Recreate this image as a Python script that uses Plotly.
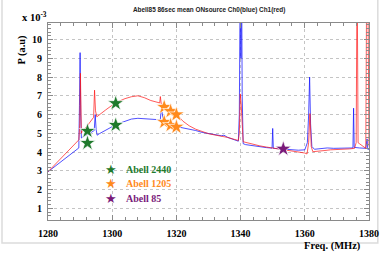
import plotly.graph_objects as go

# ---- data (values in units of 1e-3) ----
blue_freq = [1280.0, 1282.0, 1284.0, 1286.0, 1288.0, 1289.6, 1289.8, 1290.0, 1290.2, 1290.4,
             1291.0, 1292.0, 1293.0, 1294.4, 1294.7, 1295.0, 1295.3, 1296.0, 1298.0, 1300.0,
             1301.0, 1302.0, 1304.0, 1306.0, 1308.0, 1310.0, 1312.0, 1314.5, 1315.0, 1315.2,
             1315.5, 1316.0, 1318.0, 1320.0, 1322.0, 1324.0, 1326.0, 1328.0, 1330.0, 1332.0,
             1334.0, 1334.8, 1335.3, 1336.0, 1338.0, 1339.3, 1339.6, 1339.9, 1340.1, 1340.3,
             1340.5, 1340.8, 1341.5, 1344.0, 1346.0, 1348.0, 1349.8, 1350.0, 1350.2, 1352.0,
             1354.0, 1356.0, 1358.0, 1360.0, 1360.8, 1361.2, 1361.5, 1361.8, 1362.2, 1363.0,
             1365.0, 1367.0, 1369.0, 1372.0, 1374.0, 1375.0, 1375.2, 1375.4, 1377.0, 1379.0,
             1379.4, 1379.6, 1380.0]
blue_vals = [2.95, 3.22, 3.50, 3.75, 4.00, 4.22, 6.5, 9.3, 6.0, 4.75,
             4.82, 4.90, 5.00, 5.15, 6.0, 5.2, 4.90, 4.98, 5.18, 5.38,
             5.45, 5.52, 5.66, 5.76, 5.80, 5.78, 5.74, 5.71, 5.72, 6.2,
             6.15, 5.60, 5.45, 5.36, 5.30, 5.24, 5.15, 5.05, 4.98, 4.92,
             4.87, 4.90, 4.84, 4.78, 4.66, 4.58, 6.0, 14.0, 9.0, 14.0,
             7.0, 4.45, 4.40, 4.33, 4.28, 4.24, 4.21, 5.26, 4.20, 4.17,
             4.15, 4.12, 4.10, 4.12, 4.50, 6.0, 8.0, 5.5, 4.30, 4.15,
             4.18, 4.22, 4.20, 4.20, 4.20, 4.22, 6.34, 4.25, 4.22, 4.20,
             4.70, 4.15, 4.15]

red_freq = [1280.0, 1282.0, 1284.0, 1286.0, 1288.0, 1289.6, 1289.9, 1290.1, 1290.4, 1290.7,
            1292.0, 1293.0, 1294.2, 1294.5, 1294.8, 1295.2, 1296.0, 1298.0, 1300.0, 1301.0,
            1302.0, 1304.0, 1306.0, 1308.0, 1310.0, 1312.0, 1314.0, 1314.8, 1315.0, 1315.3,
            1316.0, 1318.0, 1320.0, 1321.0, 1322.0, 1324.0, 1326.0, 1328.0, 1330.0, 1332.0,
            1334.0, 1336.0, 1338.0, 1339.3, 1339.6, 1339.9, 1340.2, 1340.5, 1340.8, 1342.0,
            1344.0, 1346.0, 1348.0, 1350.0, 1352.0, 1354.0, 1356.0, 1358.0, 1360.0, 1360.7,
            1361.2, 1361.6, 1362.0, 1362.5, 1364.0, 1366.0, 1368.0, 1370.0, 1372.0, 1374.0,
            1375.5, 1376.0, 1376.3, 1376.6, 1377.0, 1378.0, 1379.0, 1379.3, 1379.6, 1380.0]
red_vals = [2.95, 3.30, 3.65, 4.00, 4.35, 4.65, 5.5, 8.2, 5.0, 5.15,
            5.35, 5.55, 5.85, 7.3, 6.2, 5.88, 6.00, 6.25, 6.50, 6.60,
            6.70, 6.85, 6.95, 7.00, 6.90, 6.75, 6.67, 6.62, 6.96, 6.55,
            6.42, 6.20, 6.00, 5.85, 5.65, 5.40, 5.22, 5.08, 4.98, 4.91,
            4.85, 4.78, 4.68, 4.62, 5.0, 7.1, 6.5, 5.0, 4.55, 4.50,
            4.40, 4.33, 4.27, 4.22, 4.16, 4.12, 4.08, 4.03, 3.95, 3.90,
            4.5, 6.05, 4.30, 4.02, 4.03, 4.08, 4.12, 4.13, 4.15, 4.17,
            4.20, 4.5, 14.0, 4.5, 4.45, 4.30, 4.20, 14.0, 14.0, 4.30]

a2440_freq = [1292.3, 1292.3, 1301.1, 1301.1]
a2440_vals = [5.12, 4.48, 6.60, 5.44]
a1205_freq = [1316.2, 1318.2, 1320.0, 1316.2, 1318.2, 1320.0]
a1205_vals = [6.40, 6.18, 6.00, 5.60, 5.43, 5.34]
a85_freq = [1353.3]
a85_vals = [4.17]

legend_names = ["Abell 2440", "Abell 1205", "Abell 85"]
legend_colors = ["#1f7a2c", "#ff8a1c", "#7a1a7a"]

title_text = "Abell85 86sec mean ONsource Ch0(blue) Ch1(red)"
x_ticks = [1280, 1300, 1320, 1340, 1360, 1380]
y_ticks = [1, 2, 3, 4, 5, 6, 7, 8, 9, 10]

# ---- layout geometry ----
W, H = 391, 255
ML, MR, MT, MB = 48, 15, 23, 35
PW, PH = W - ML - MR, H - MT - MB


def px(x):
    return (x - ML) / PW


def py(y):
    return (H - MB - y) / PH


fig = go.Figure()
fig.add_trace(go.Scatter(x=blue_freq, y=blue_vals, mode="lines",
                         line=dict(color="rgba(20,20,255,0.75)", width=1), showlegend=False))
fig.add_trace(go.Scatter(x=red_freq, y=red_vals, mode="lines",
                         line=dict(color="rgba(255,20,20,0.7)", width=1), showlegend=False))

for fx, fy, col in [(a2440_freq, a2440_vals, legend_colors[0]),
                    (a1205_freq, a1205_vals, legend_colors[1]),
                    (a85_freq, a85_vals, legend_colors[2])]:
    fig.add_trace(go.Scatter(x=fx, y=fy, mode="markers",
                             marker=dict(symbol="star", size=12, color=col,
                                         line=dict(color="rgba(255,255,255,0.7)", width=1)),
                             showlegend=False))

serif = "Liberation Serif"
axis_common = dict(
    showline=True, linecolor="#8a8a8a", linewidth=1, mirror="allticks",
    ticks="inside", tickcolor="#8a8a8a", ticklen=5,
    showgrid=True, gridcolor="#c4c4c4", griddash="dot", gridwidth=1,
    zeroline=False,
    tickfont=dict(family=serif, size=10, color="black", weight="bold"),
)

fig.update_xaxes(range=[1280, 1380], tickvals=x_ticks, ticktext=[str(t) for t in x_ticks],
                 minor=dict(dtick=4, ticklen=3, tickcolor="#8a8a8a", ticks="inside", showgrid=False),
                 ticklabelstandoff=4, **axis_common)
fig.update_yaxes(range=[0.38, 10.88], tickvals=y_ticks, ticktext=[str(t) for t in y_ticks],
                 minor=dict(dtick=0.2, ticklen=3, tickcolor="#8a8a8a", ticks="inside", showgrid=False),
                 ticklabelstandoff=3, **axis_common)

annotations = [
    dict(text="<b>" + title_text + "</b>", x=px(212), y=py(9.5), xref="paper", yref="paper",
         showarrow=False, xanchor="center", yanchor="middle",
         font=dict(family="Liberation Sans", size=6.4, color="#222")),
    dict(text="<b>x 10<sup>-3</sup></b>", x=px(19), y=py(16), xref="paper", yref="paper",
         showarrow=False, xanchor="left", yanchor="middle",
         font=dict(family=serif, size=10.5, color="black")),
    dict(text="<b>P (a.u)</b>", x=px(21), y=py(50), xref="paper", yref="paper",
         showarrow=False, xanchor="center", yanchor="middle", textangle=-90,
         font=dict(family=serif, size=10.5, color="black")),
    dict(text="<b>Freq. (MHz)</b>", x=px(370), y=py(245.5), xref="paper", yref="paper",
         showarrow=False, xanchor="right", yanchor="middle",
         font=dict(family=serif, size=10.5, color="black")),
]
for i, (name, col) in enumerate(zip(legend_names, legend_colors)):
    yy = 169.5 + i * 14.3
    annotations.append(dict(text="★", x=px(112.7), y=py(yy), xref="paper", yref="paper",
                            showarrow=False, xanchor="center", yanchor="middle",
                            font=dict(family="DejaVu Sans", size=13, color=col)))
    annotations.append(dict(text="<b>" + name + "</b>", x=px(126), y=py(yy), xref="paper", yref="paper",
                            showarrow=False, xanchor="left", yanchor="middle",
                            font=dict(family=serif, size=10, color=col)))

fig.update_layout(
    width=W, height=H,
    margin=dict(l=ML, r=MR, t=MT, b=MB, pad=0),
    paper_bgcolor="white", plot_bgcolor="white",
    showlegend=False,
    annotations=annotations,
    shapes=[dict(type="rect", xref="paper", yref="paper",
                 x0=px(1), x1=px(385), y0=py(243), y1=py(-3),
                 line=dict(color="#dcdcdc", width=1.5), layer="below")],
)

fig.write_html("out.html", config={"displayModeBar": False},
               post_script="document.body.style.margin='0';document.body.style.overflow='hidden';")
